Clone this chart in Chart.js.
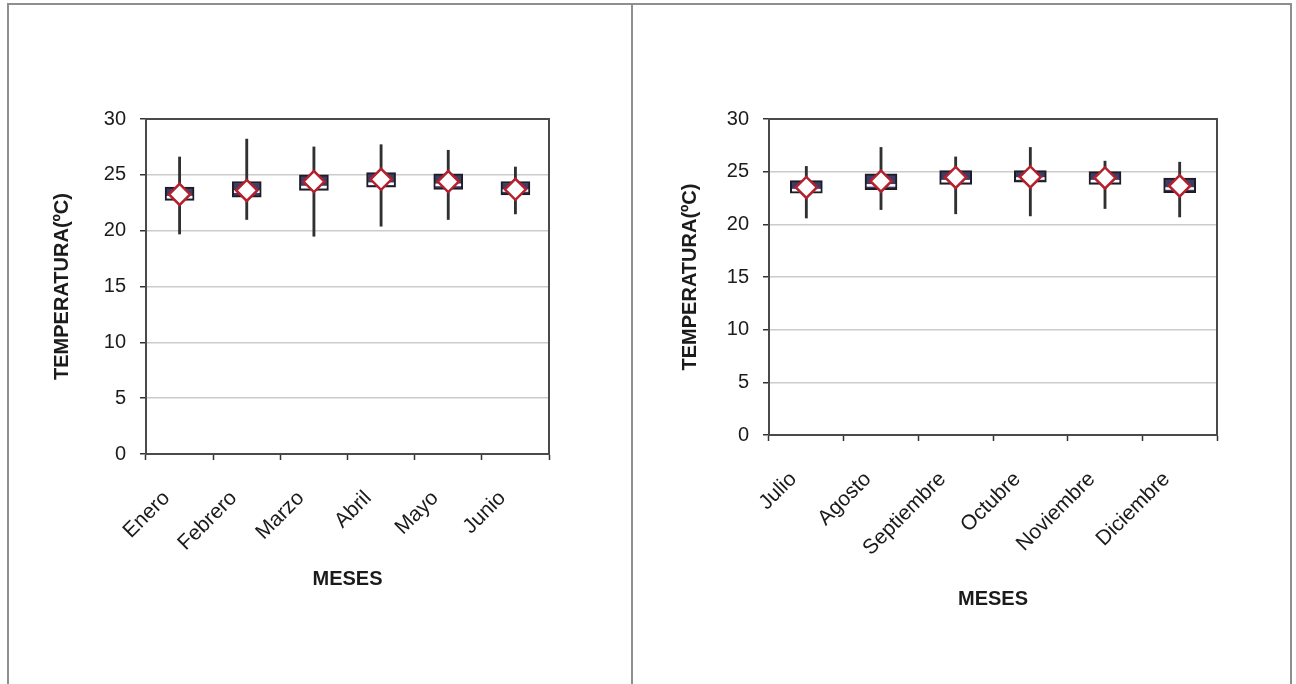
<!DOCTYPE html>
<html>
<head>
<meta charset="utf-8">
<script src="https://cdn.jsdelivr.net/npm/chart.js@4.4.1/dist/chart.umd.min.js"></script>
<style>
  html, body { margin: 0; padding: 0; background: #fff; width: 1296px; height: 684px; overflow: hidden; }
  #frame { position: absolute; left: 7px; top: 3px; width: 1285px; height: 720px; border: 2px solid #8e8e8e; border-bottom: none; box-sizing: border-box; }
  #divider { position: absolute; left: 631px; top: 3px; width: 2px; height: 681px; background: #8e8e8e; }
  canvas { position: absolute; }
  #left { left: 8px; top: 5px; }
  #right { left: 632px; top: 5px; }
</style>
</head>
<body>
<div id="frame"></div>
<div id="divider"></div>
<canvas id="left" width="623" height="679"></canvas>
<canvas id="right" width="658" height="679"></canvas>
<script>
// Primer semestre
const mesesA = ['Enero', 'Febrero', 'Marzo', 'Abril', 'Mayo', 'Junio'];
const maxA   = [26.6, 28.2, 27.5, 27.7, 27.2, 25.7];
const minA   = [19.7, 21.0, 19.5, 20.4, 21.0, 21.5];
const q3A    = [23.9, 24.4, 25.0, 25.2, 25.1, 24.4];
const q1A    = [22.7, 23.0, 23.6, 23.9, 23.7, 23.2];
const medA   = [23.0, 23.5, 23.9, 24.2, 24.1, 23.6];
const meanA  = [23.25, 23.6, 24.4, 24.6, 24.4, 23.7];

// Segundo semestre
const mesesB = ['Julio', 'Agosto', 'Septiembre', 'Octubre', 'Noviembre', 'Diciembre'];
const maxB   = [25.5, 27.3, 26.4, 27.3, 26.0, 25.9];
const minB   = [20.6, 21.4, 21.0, 20.8, 21.5, 20.7];
const q3B    = [24.15, 24.8, 25.1, 25.1, 25.0, 24.4];
const q1B    = [22.95, 23.3, 23.8, 24.0, 23.8, 23.0];
const medB   = [23.25, 23.7, 24.1, 24.35, 24.1, 23.4];
const meanB  = [23.5, 24.1, 24.45, 24.5, 24.4, 23.65];

const yTicks = [0, 5, 10, 15, 20, 25, 30];
const yTitle = 'TEMPERATURA(ºC)';
const xTitle = 'MESES';

const FONT = "'Liberation Sans', Arial, sans-serif";
const TEXT = '#1b1b1b';

// frame around the plotting area (top and right edges)
const plotFrame = {
  id: 'plotFrame',
  beforeDatasetsDraw(chart) {
    const { ctx, chartArea: a } = chart;
    ctx.save();
    ctx.strokeStyle = '#4a4a4a';
    ctx.lineWidth = 2;
    ctx.strokeRect(a.left, a.top, a.right - a.left, a.bottom - a.top);
    ctx.restore();
  }
};

function makeChart(id, c) {
  const datasets = [
    { label: 'Rango', data: c.min.map((v, i) => [v, c.max[i]]),
      backgroundColor: '#303030', barThickness: 2.2, grouped: false, order: 3 },
    { label: 'Cuartiles', data: c.q1.map((v, i) => [v, c.q3[i]]),
      backgroundColor: '#3f3c68', borderColor: '#1d1d26', borderWidth: 2,
      borderSkipped: false, barThickness: c.boxW, grouped: false, order: 2 },
    { label: 'Mediana', data: c.med.map(v => [v - 0.09, v + 0.09]),
      backgroundColor: '#ffffff', barThickness: c.boxW - 4, grouped: false, order: 1 },
    { type: 'line', label: 'Media', data: c.mean, showLine: false,
      pointStyle: 'rectRot', pointRadius: 10.5, pointHoverRadius: 10.5,
      pointBackgroundColor: '#ffffff', pointBorderColor: '#b5202c', pointBorderWidth: 2.5, order: 0 }
  ];

  return new Chart(document.getElementById(id), {
    type: 'bar',
    data: { labels: c.labels, datasets },
    plugins: [plotFrame],
    options: {
      responsive: false,
      animation: false,
      events: [],
      layout: { padding: { top: c.padTop, right: c.padRight, left: 0, bottom: 0 } },
      plugins: { legend: { display: false }, tooltip: { enabled: false } },
      scales: {
        x: {
          ticks: { color: TEXT, font: { family: FONT, size: 21 }, minRotation: 45, maxRotation: 45,
                   padding: c.xTickPad, labelOffset: -13, autoSkip: false },
          grid: { drawOnChartArea: false, offset: true, tickColor: '#333', tickLength: 6, tickWidth: 1.5 },
          border: { color: '#4a4a4a', width: 2 },
          title: { display: true, text: xTitle, color: TEXT, font: { family: FONT, size: 20, weight: 'bold' }, padding: { top: 0, bottom: c.xTitlePad } },
          afterFit(s) { s.height = c.xH; }
        },
        y: {
          min: 0, max: 30,
          afterBuildTicks(s) { s.ticks = yTicks.map(v => ({ value: v })); },
          ticks: { color: TEXT, font: { family: FONT, size: 20 }, padding: 14 },
          grid: { color: '#cfcaca', lineWidth: 1.5, tickColor: '#333', tickLength: 6, tickWidth: 1.5 },
          border: { color: '#4a4a4a', width: 2 },
          title: { display: true, text: yTitle, color: TEXT, font: { family: FONT, size: 20, weight: 'bold' }, padding: { top: c.yTitlePad, bottom: 0 } },
          afterFit(s) { s.width = c.yW; }
        }
      }
    }
  });
}

makeChart('left', {
  labels: mesesA, min: minA, max: maxA, q1: q1A, q3: q3A, med: medA, mean: meanA,
  boxW: 29, padTop: 114, padRight: 82, yW: 138, xH: 230,
  xTickPad: 26, xTitlePad: 93, yTitlePad: 42
});

makeChart('right', {
  labels: mesesB, min: minB, max: maxB, q1: q1B, q3: q3B, med: medB, mean: meanB,
  boxW: 32, padTop: 114, padRight: 73, yW: 137, xH: 249,
  xTickPad: 26, xTitlePad: 73, yTitlePad: 46
});
</script>
</body>
</html>
